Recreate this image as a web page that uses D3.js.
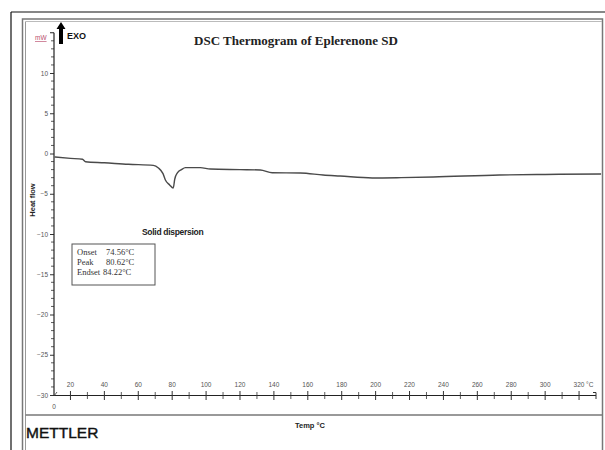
<!DOCTYPE html>
<html>
<head>
<meta charset="utf-8">
<script src="https://cdn.jsdelivr.net/npm/d3@7/dist/d3.min.js"></script>
<style>
  html, body { margin: 0; padding: 0; background: #fff; }
  svg { display: block; }
</style>
</head>
<body>
<svg id="chart" width="605" height="450"></svg>
<script>
// DSC thermogram: heat flow (mW) versus temperature (°C)
const temps = [10.6, 20, 27.1, 28.9, 40, 54.2, 68.9, 71.9, 74.6, 76.0, 78.5, 80.62, 81.5, 83.1, 85.5, 87.8, 96.6, 102.5, 120, 132, 139, 155.6, 169, 179, 198, 215, 234, 273, 300, 333];
const heatFlow = [-0.43, -0.6, -0.72, -1.02, -1.15, -1.34, -1.47, -1.8, -2.5, -3.29, -3.9, -4.3, -3.2, -2.4, -2.0, -1.76, -1.76, -1.93, -2.0, -2.05, -2.39, -2.42, -2.67, -2.8, -3.04, -3.0, -2.92, -2.67, -2.6, -2.55];

const xMajorTicks = [20, 40, 60, 80, 100, 120, 140, 160, 180, 200, 220, 240, 260, 280, 300, 320];
const xMinorTicks = [30, 50, 70, 90, 110, 130, 150, 170, 190, 210, 230, 250, 270, 290, 310];
const yMajorTicks = [10, 5, 0, -5, -10, -15, -20, -25, -30];

const eventLabels = ["Onset", "Peak", "Endset"];
const eventValues = ["74.56°C", "80.62°C", "84.22°C"];

const svg = d3.select("#chart");

const x = d3.scaleLinear().domain([10, 330]).range([53.5, 596]);
const y = d3.scaleLinear().domain([-30, 15]).range([395, 32.75]);

// page frames
svg.append("line").attr("x1", 11).attr("x2", 605).attr("y1", 12).attr("y2", 12)
  .attr("stroke", "#111").attr("stroke-width", 1.2);
svg.append("line").attr("x1", 11).attr("x2", 11).attr("y1", 12).attr("y2", 450)
  .attr("stroke", "#111").attr("stroke-width", 1.2);

svg.append("rect").attr("x", 22.5).attr("y", 19).attr("width", 580).attr("height", 440)
  .attr("fill", "none").attr("stroke", "#777").attr("stroke-width", 1.5);
svg.append("line").attr("x1", 25.5).attr("x2", 25.5).attr("y1", 21.5).attr("y2", 450)
  .attr("stroke", "#999").attr("stroke-width", 1);
svg.append("line").attr("x1", 25.5).attr("x2", 602).attr("y1", 21.5).attr("y2", 21.5)
  .attr("stroke", "#bbb").attr("stroke-width", 1);
svg.append("line").attr("x1", 25.5).attr("x2", 602).attr("y1", 415).attr("y2", 415)
  .attr("stroke", "#777").attr("stroke-width", 1.5);

// title
svg.append("text").attr("x", 296).attr("y", 45).attr("text-anchor", "middle")
  .attr("font-family", "Liberation Serif, Times New Roman, serif").attr("font-weight", "bold")
  .attr("font-size", 13).attr("fill", "#222").text("DSC Thermogram of Eplerenone SD");

// y axis
const yAxis = d3.axisLeft(y).tickValues(yMajorTicks).tickSize(4).tickPadding(2)
  .tickFormat(d3.format("d"));
const gy = svg.append("g").attr("transform", "translate(54,0)").call(yAxis);
gy.select(".domain").remove();
gy.selectAll(".tick line").attr("stroke", "#333");
gy.selectAll(".tick text").attr("font-family", "Liberation Sans, Arial, sans-serif")
  .attr("font-size", 6.5).attr("fill", "#555");
svg.append("g").selectAll("line").data(d3.range(-29, 15).filter(v => v % 5 !== 0))
  .join("line").attr("x1", 51).attr("x2", 54)
  .attr("y1", d => y(d)).attr("y2", d => y(d)).attr("stroke", "#333").attr("stroke-width", 0.8);
svg.append("line").attr("x1", 54).attr("x2", 54).attr("y1", y(15)).attr("y2", y(-30))
  .attr("stroke", "#222").attr("stroke-width", 1.2);
svg.append("line").attr("x1", 50).attr("x2", 54).attr("y1", y(15)).attr("y2", y(15))
  .attr("stroke", "#222").attr("stroke-width", 1);

// unit marker
svg.append("text").attr("x", 35).attr("y", 40)
  .attr("font-family", "Liberation Sans, Arial, sans-serif").attr("font-size", 6.5)
  .attr("fill", "#b84a6a").attr("text-decoration", "underline").text("mW");

// exo arrow
const arrowTop = 22, arrowBottom = 44;
svg.append("path")
  .attr("d", `M61,${arrowTop} L65.5,${arrowTop + 7} L63,${arrowTop + 7} L63,${arrowBottom} L59,${arrowBottom} L59,${arrowTop + 7} L56.5,${arrowTop + 7} Z`)
  .attr("fill", "#000");
svg.append("text").attr("x", 67).attr("y", 39)
  .attr("font-family", "Liberation Sans, Arial, sans-serif").attr("font-weight", "bold")
  .attr("font-size", 9).attr("fill", "#111").text("EXO");

// y axis title
svg.append("text").attr("transform", "translate(35,200) rotate(-90)").attr("text-anchor", "middle")
  .attr("font-family", "Liberation Sans, Arial, sans-serif").attr("font-weight", "bold")
  .attr("font-size", 7.5).attr("fill", "#222").text("Heat flow");

// x axis
svg.append("line").attr("x1", x(10)).attr("x2", x(330)).attr("y1", 395.5).attr("y2", 395.5)
  .attr("stroke", "#222").attr("stroke-width", 1.2);
svg.append("g").selectAll("line").data(xMajorTicks).join("line")
  .attr("x1", d => x(d)).attr("x2", d => x(d)).attr("y1", 391).attr("y2", 400)
  .attr("stroke", "#333").attr("stroke-width", 1);
svg.append("g").selectAll("line").data(xMinorTicks).join("line")
  .attr("x1", d => x(d)).attr("x2", d => x(d)).attr("y1", 392).attr("y2", 399)
  .attr("stroke", "#333").attr("stroke-width", 0.8);
svg.append("path").attr("d", `M${x(330) - 3},392.5 L${x(330)},392.5 L${x(330)},399`)
  .attr("fill", "none").attr("stroke", "#333").attr("stroke-width", 1);
svg.append("line").attr("x1", 54).attr("x2", 57).attr("y1", 396).attr("y2", 392)
  .attr("stroke", "#333").attr("stroke-width", 0.8);
svg.append("g").selectAll("text").data(xMajorTicks).join("text")
  .attr("x", d => x(d)).attr("y", 387).attr("text-anchor", "middle")
  .attr("font-family", "Liberation Sans, Arial, sans-serif").attr("font-size", 6.5)
  .attr("fill", "#555").text(d => d);
svg.append("text").attr("x", x(320) + 7).attr("y", 387)
  .attr("font-family", "Liberation Sans, Arial, sans-serif").attr("font-size", 6.5)
  .attr("fill", "#555").text("°C");
svg.append("text").attr("x", 54).attr("y", 409).attr("text-anchor", "middle")
  .attr("font-family", "Liberation Sans, Arial, sans-serif").attr("font-size", 6.5)
  .attr("fill", "#555").text("0");

// x axis title
svg.append("text").attr("x", 295).attr("y", 428)
  .attr("font-family", "Liberation Sans, Arial, sans-serif").attr("font-weight", "bold")
  .attr("font-size", 7.5).attr("fill", "#222").text("Temp °C");

// instrument name
svg.append("text").attr("x", 26).attr("y", 438)
  .attr("font-family", "Liberation Sans, Arial, sans-serif")
  .attr("font-size", 15.5).attr("fill", "#111")
  .attr("stroke", "#111").attr("stroke-width", 0.4).text("METTLER");

// heat-flow curve
const line = d3.line().x((d, i) => x(temps[i])).y(d => y(d)).curve(d3.curveMonotoneX);
svg.append("path").datum(heatFlow).attr("d", line)
  .attr("fill", "none").attr("stroke", "#4a4a4a").attr("stroke-width", 1.4);

// sample annotation
svg.append("text").attr("x", 142).attr("y", 235)
  .attr("font-family", "Liberation Sans, Arial, sans-serif").attr("font-weight", "bold")
  .attr("font-size", 8.5).attr("letter-spacing", -0.3).attr("fill", "#222").text("Solid dispersion");

// thermal event box
svg.append("rect").attr("x", 72).attr("y", 244).attr("width", 83).attr("height", 41)
  .attr("fill", "#fff").attr("stroke", "#555").attr("stroke-width", 1);
const boxRows = svg.append("g").selectAll("g").data(eventLabels).join("g")
  .attr("transform", (d, i) => `translate(0,${255 + i * 10})`);
boxRows.append("text").attr("x", 77).attr("y", 0)
  .attr("font-family", "Liberation Serif, Times New Roman, serif").attr("font-size", 8.5)
  .attr("fill", "#333").text(d => d);
boxRows.append("text").attr("x", (d, i) => i === 2 ? 103 : 106).attr("y", 0)
  .attr("font-family", "Liberation Serif, Times New Roman, serif").attr("font-size", 8.5)
  .attr("fill", "#333").text((d, i) => eventValues[i]);
</script>
</body>
</html>
